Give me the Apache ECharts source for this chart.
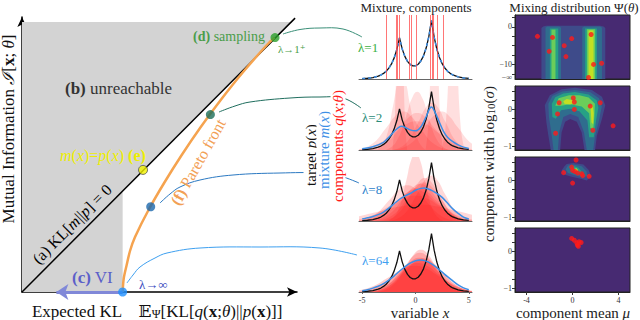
<!DOCTYPE html>
<html><head><meta charset="utf-8">
<script src="https://cdn.jsdelivr.net/npm/echarts@6.0.0/dist/echarts.min.js"></script>
<style>html,body{margin:0;padding:0;background:#fff}#c{width:640px;height:320px}</style>
</head><body><div id="c"></div>
<script>
// ---------------- DATA ----------------
// Left panel (normalised axes 0..1)
const unreachable = [[0,0],[0,0.982],[0.982,0.982],[0.366,0.366],[0.366,0]];
const diagonal = [[0,0],[0.993,0.996]];
const paretoFront = [[0.366,0],[0.370,0.05],[0.381,0.1],[0.393,0.15],[0.411,0.2],[0.461,0.3],[0.519,0.4],[0.582,0.5],[0.65,0.6],[0.724,0.7],[0.804,0.8],[0.892,0.9],[0.918,0.925]];
const lambdaPoints = [[0.92,0.925],[0.685,0.645],[0.468,0.31],[0.366,0]];
const matchPoint = [[0.44,0.444]];
const viArrow = [[0.366,0],[0.125,0]];

// Middle panels: variable x, target p(x)
const targetX = [-5,-4.5,-4,-3.5,-3.25,-3,-2.75,-2.5,-2.25,-2,-1.75,-1.5,-1.25,-1,-0.75,-0.5,-0.25,0,0.25,0.5,0.75,1,1.25,1.5,1.75,2,2.25,2.5,2.75,3,3.25,3.5,4,4.5,5];
const targetY = [0.006,0.012,0.023,0.045,0.062,0.087,0.121,0.169,0.236,0.330,0.460,0.642,0.471,0.353,0.275,0.227,0.206,0.206,0.231,0.281,0.362,0.484,0.661,0.911,0.653,0.468,0.335,0.240,0.172,0.123,0.088,0.063,0.033,0.017,0.009];
const mixtureL2 = [[-5,0.02],[-4,0.05],[-3,0.12],[-2.5,0.2],[-2,0.29],[-1.6,0.35],[-1.3,0.37],[-1,0.355],[-0.5,0.315],[0,0.30],[0.5,0.36],[1,0.52],[1.3,0.64],[1.5,0.67],[1.8,0.6],[2.2,0.45],[2.6,0.3],[3,0.2],[3.5,0.13],[4,0.08],[4.5,0.045],[5,0.025]];
const mixtureL8 = [[-5,0.03],[-4.5,0.05],[-4,0.07],[-3.5,0.1],[-3,0.14],[-2.5,0.2],[-2,0.27],[-1.5,0.34],[-1,0.39],[-0.5,0.43],[0,0.48],[0.5,0.51],[0.8,0.515],[1.2,0.5],[1.6,0.47],[2,0.43],[2.5,0.37],[3,0.28],[3.5,0.19],[4,0.12],[4.5,0.06],[5,0.03]];
const mixtureL64 = [[-5,0.02],[-4.5,0.035],[-4,0.06],[-3.5,0.09],[-3,0.13],[-2.5,0.186],[-2,0.253],[-1.5,0.325],[-1,0.394],[-0.5,0.45],[0,0.489],[0.45,0.5],[1,0.483],[1.5,0.441],[2,0.381],[2.5,0.31],[3,0.239],[3.5,0.174],[4,0.11],[4.5,0.065],[5,0.035]];
// lambda=1 components are point masses
const deltasL1 = [-2.76,-1.80,-1.68,-1.49,-0.56,-0.43,0.06,1.43,1.55,1.68,2.05,2.61];
const compsL2 = [
 [[-5.69,0],[-4.18,0.081],[-2.67,0.364],[-1.92,0.529],[-1.16,0.60],[-0.41,0.529],[0.35,0.364],[1.86,0.081],[3.37,0]],
 [[-6.05,0],[-4.01,0.061],[-1.97,0.273],[-0.95,0.397],[0.07,0.45],[1.09,0.397],[2.11,0.273],[4.15,0.061],[6.19,0]],
 [[-4.58,0],[-3.0,0.078],[-1.42,0.352],[-0.63,0.512],[0.16,0.58],[0.95,0.512],[1.74,0.352],[3.32,0.078],[4.9,0]],
 [[-2.84,0],[-1.84,0.123],[-0.84,0.552],[-0.34,0.803],[0.16,0.91],[0.66,0.803],[1.16,0.552],[2.16,0.123],[3.16,0]],
 [[-3.58,0],[-2.82,0.162],[-2.06,0.728],[-1.68,1.058],[-1.30,1.20],[-0.92,1.058],[-0.54,0.728],[0.22,0.162],[0.98,0]],
 [[-2.15,0],[-0.92,0.10],[0.31,0.449],[0.93,0.653],[1.54,0.74],[2.16,0.653],[2.77,0.449],[4.0,0.10],[5.23,0]],
 [[-2.12,0],[-0.61,0.081],[0.90,0.364],[1.66,0.529],[2.41,0.60],[3.17,0.529],[3.92,0.364],[5.43,0.081],[6.94,0]],
 [[-2.16,0],[-1.93,0.535],[-1.70,2.40],[-1.59,3.49],[-1.47,3.96],[-1.36,3.49],[-1.24,2.40],[-1.01,0.535],[-0.78,0]],
 [[0.95,0],[1.22,0.447],[1.50,2.01],[1.63,2.92],[1.77,3.31],[1.91,2.92],[2.05,2.01],[2.32,0.447],[2.60,0]],
 [[2.45,0],[2.81,0.342],[3.17,1.536],[3.35,2.23],[3.53,2.53],[3.71,2.23],[3.89,1.536],[4.25,0.342],[4.61,0]]
];
const compsL8 = [
 [[-10.34,0],[-6.79,0.035],[-3.24,0.155],[-1.47,0.226],[0.31,0.256],[2.09,0.226],[3.86,0.155],[7.41,0.035],[10.96,0]],
 [[-6.94,0],[-4.65,0.054],[-2.36,0.243],[-1.22,0.353],[-0.07,0.40],[1.08,0.353],[2.22,0.243],[4.51,0.054],[6.80,0]],
 [[-5.63,0],[-4.01,0.076],[-2.39,0.34],[-1.58,0.494],[-0.77,0.56],[0.04,0.494],[0.85,0.34],[2.47,0.076],[4.09,0]],
 [[-5.57,0],[-3.71,0.066],[-1.85,0.297],[-0.92,0.432],[0.01,0.49],[0.94,0.432],[1.87,0.297],[3.73,0.066],[5.59,0]],
 [[-5.0,0],[-3.26,0.07],[-1.52,0.316],[-0.65,0.459],[0.22,0.52],[1.09,0.459],[1.96,0.316],[3.70,0.07],[5.44,0]],
 [[-4.29,0],[-2.71,0.078],[-1.13,0.352],[-0.34,0.512],[0.45,0.58],[1.24,0.512],[2.03,0.352],[3.61,0.078],[5.19,0]],
 [[-3.73,0],[-2.22,0.081],[-0.71,0.364],[0.05,0.529],[0.80,0.60],[1.56,0.529],[2.31,0.364],[3.82,0.081],[5.33,0]],
 [[-3.16,0],[-1.81,0.09],[-0.46,0.407],[0.22,0.591],[0.89,0.67],[1.57,0.591],[2.24,0.407],[3.59,0.09],[4.94,0]],
 [[-2.42,0],[-1.13,0.096],[0.16,0.431],[0.81,0.626],[1.45,0.71],[2.10,0.626],[2.74,0.431],[4.03,0.096],[5.32,0]],
 [[-2.54,0],[-1.69,0.144],[-0.84,0.649],[-0.42,0.944],[0.01,1.07],[0.44,0.944],[0.86,0.649],[1.71,0.144],[2.56,0]]
];
const compsL64 = [
 [[-6.79,0],[-4.55,0.055],[-2.31,0.249],[-1.19,0.362],[-0.07,0.41],[1.05,0.362],[2.17,0.249],[4.41,0.055],[6.65,0]],
 [[-5.84,0],[-3.84,0.061],[-1.84,0.276],[-0.84,0.401],[0.16,0.455],[1.16,0.401],[2.16,0.276],[4.16,0.061],[6.16,0]],
 [[-4.73,0],[-3.03,0.072],[-1.33,0.325],[-0.48,0.472],[0.37,0.535],[1.22,0.472],[2.07,0.325],[3.77,0.072],[5.47,0]],
 [[-4.02,0],[-2.54,0.083],[-1.06,0.373],[-0.32,0.542],[0.42,0.615],[1.16,0.542],[1.90,0.373],[3.38,0.083],[4.86,0]],
 [[-4.89,0],[-3.07,0.068],[-1.25,0.304],[-0.34,0.441],[0.57,0.50],[1.48,0.441],[2.39,0.304],[4.21,0.068],[6.03,0]],
 [[-4.47,0],[-2.73,0.071],[-0.99,0.317],[-0.12,0.461],[0.75,0.523],[1.62,0.461],[2.49,0.317],[4.23,0.071],[5.97,0]],
 [[-3.63,0],[-2.25,0.089],[-0.87,0.40],[-0.18,0.582],[0.51,0.66],[1.20,0.582],[1.89,0.40],[3.27,0.089],[4.65,0]]
];

// Right panels: mixing distribution (mean mu, log10 sigma)
const psiDotsL1 = [[-3.05,-2.5],[-1.74,-2.8],[-0.07,-3.1],[-0.72,-5.0],[1.62,-2.0],[-2.03,-6.5],[-0.57,-7.9],[1.83,-10.0],[2.53,-9.7],[1.39,-13.5]];
const psiDotsL2 = [[-1.16,0.18],[0.07,0.31],[0.16,0.20],[0.16,0.0],[-1.30,-0.12],[1.54,0.09],[2.41,0.18],[-1.47,-0.64],[1.77,-0.56],[3.53,-0.44]];
const psiDotsL8 = [[0.31,0.55],[-0.07,0.36],[-0.77,0.21],[0.01,0.27],[0.22,0.24],[0.45,0.20],[0.80,0.18],[0.89,0.13],[1.45,0.11],[0.01,-0.07]];
const psiDotsL64 = [[-0.07,0.35],[0.16,0.30],[0.37,0.23],[0.42,0.17],[0.57,0.26],[0.75,0.24],[0.51,0.14]];
// density contours: [level, polygon]
const contoursL1 = [
 [1, [[-2.7,-15],[-2.7,-0.3],[-2.55,0.15],[-2.3,0.3],[2.4,0.3],[2.7,0.15],[2.85,-0.3],[2.85,-15]]],
 [2, [[-2.35,-15],[-2.35,-0.2],[-2.2,0.1],[-1.15,0.1],[-1.0,-0.2],[-1.0,-15]]],
 [2, [[0.85,-15],[0.85,-0.2],[1.0,0.1],[2.4,0.1],[2.56,-0.2],[2.56,-15]]],
 [3, [[-1.97,-15],[-1.97,-0.4],[-1.24,-0.4],[-1.24,-15]]],
 [3, [[1.1,-15],[1.1,-0.4],[2.12,-0.4],[2.12,-15]]],
 [4, [[-1.83,-15],[-1.83,-0.7],[-1.48,-0.7],[-1.48,-15]]],
 [4, [[1.25,-15],[1.25,-0.6],[1.97,-0.6],[1.97,-15]]],
 [5, [[1.39,-15],[1.39,-0.9],[1.83,-0.9],[1.83,-15]]]
];
const contoursL2 = [
 [1, [[-1.83,-1.2],[-2.1,-0.7],[-2.27,-0.35],[-2.41,0.11],[-1.97,0.38],[-0.95,0.54],[0.22,0.58],[1.68,0.52],[2.56,0.34],[2.85,0.11],[2.56,-0.26],[2.12,-0.71],[1.92,-1.2],[1.10,-1.2],[0.8,-0.62],[0.37,-0.33],[-0.2,-0.26],[-0.64,-0.33],[-0.95,-0.62],[-1.10,-1.2]]],
 [2, [[-1.6,-1.2],[-1.85,-0.6],[-2.05,-0.2],[-2.1,0.15],[-1.75,0.36],[-0.9,0.48],[0.2,0.52],[1.55,0.46],[2.3,0.3],[2.55,0.08],[2.3,-0.3],[1.95,-0.75],[1.75,-1.2],[1.3,-1.2],[1.0,-0.62],[0.5,-0.2],[-0.2,-0.12],[-0.8,-0.2],[-1.15,-0.6],[-1.3,-1.2]]],
 [3, [[-1.75,-0.2],[-1.8,0.15],[-1.5,0.33],[-0.8,0.43],[0.2,0.47],[1.4,0.4],[2.1,0.25],[2.25,0.05],[2.05,-0.3],[1.85,-0.75],[1.45,-0.75],[1.3,-0.3],[0.6,-0.05],[-0.2,0.02],[-1.0,-0.02],[-1.45,-0.25]]],
 [4, [[-1.5,0.1],[-1.2,0.3],[-0.3,0.38],[0.6,0.38],[1.4,0.32],[1.95,0.15],[1.9,-0.2],[1.8,-0.55],[1.55,-0.5],[1.45,-0.1],[0.8,0.08],[-0.2,0.14],[-1.0,0.1]]],
 [5, [[-0.8,0.22],[-0.5,0.28],[0.0,0.25],[0.2,0.18],[-0.2,0.13],[-0.7,0.15]]],
 [5, [[1.55,0.1],[1.75,0.12],[1.85,-0.1],[1.8,-0.4],[1.65,-0.35],[1.6,-0.1]]]
];
const contoursL8 = [
 [1, [[-0.95,0.27],[-0.7,0.38],[-0.51,0.44],[0.07,0.47],[0.95,0.43],[1.39,0.29],[1.62,0.12],[1.24,0.0],[0.8,0.04],[-0.07,0.1],[-0.66,0.15]]],
 [2, [[-0.6,0.3],[-0.4,0.4],[0.1,0.43],[0.8,0.38],[1.2,0.25],[1.3,0.12],[0.9,0.08],[0.2,0.14],[-0.4,0.2]]],
 [3, [[-0.2,0.34],[0.1,0.39],[0.5,0.34],[0.8,0.24],[0.6,0.18],[0.2,0.22],[-0.1,0.27]]],
 [5, [[0.15,0.31],[0.35,0.33],[0.5,0.27],[0.35,0.24],[0.2,0.27]]]
];
const contoursL64 = [];
const midTicks = [-5,0,5];
const psiMeanTicks = [-4,0,4];
const sigmaTicksL1 = [0,-10,-13.4];
const sigmaTicks = [0,-1];

// ---------------- STYLE / LAYOUT ----------------
const FF = "'Liberation Serif','DejaVu Serif',serif";
const tops = [15, 86, 157, 228];
const levelColors = ['#472a72','#3e4b8a','#2f6d8e','#26a185','#6bcd5a','#c2df23'];
const pointColors = ['#2ca02c','#1b6e5a','#1c68ad','#1e90ff'];
const compFills = [null, 'rgba(255,25,25,0.2)', 'rgba(255,25,25,0.24)', 'rgba(255,25,25,0.3)'];
const blue = '#3d8fe6';

const grids = [{left:22, top:17, width:275, height:275}];
const xAxes = [{gridIndex:0, type:'value', min:0, max:1, axisLine:{show:true, onZero:false, symbol:['none','arrow'], symbolSize:[7,10], lineStyle:{color:'#000', width:1.5}}, axisTick:{show:false}, axisLabel:{show:false}, splitLine:{show:false}}];
const yAxes = [{gridIndex:0, type:'value', min:0, max:1, axisLine:{show:true, onZero:false, symbol:['none','arrow'], symbolSize:[7,10], lineStyle:{color:'#000', width:1.5}}, axisTick:{show:false}, axisLabel:{show:false}, splitLine:{show:false}}];
for (let i = 0; i < 4; i++) {
  const last = i === 3;
  grids.push({left:359, top:tops[i], width:113, height:64});
  xAxes.push({gridIndex:1+i, type:'value', min:-5.3, max:5.3,
    axisLine:{show:true, onZero:false, lineStyle:{color:'#666', width:1}},
    axisTick:{show:last, customValues:midTicks, length:2, lineStyle:{color:'#666'}},
    axisLabel:{show:last, customValues:midTicks, fontSize:8, color:'#333', margin:4, fontFamily:FF},
    splitLine:{show:false}});
  yAxes.push({gridIndex:1+i, type:'value', min:0, max:1, show:false});
}
for (let i = 0; i < 4; i++) {
  const last = i === 3;
  grids.push({left:515, top:tops[i], width:115, height:64, show:true, backgroundColor:levelColors[0], borderColor:'#222', borderWidth:1});
  xAxes.push({gridIndex:5+i, type:'value', min:-5, max:5,
    axisLine:{show:true, onZero:false, lineStyle:{color:'#222', width:1}},
    axisTick:{show:last, customValues:psiMeanTicks, length:3, lineStyle:{color:'#333'}},
    axisLabel:{show:last, customValues:psiMeanTicks, fontSize:8, color:'#333', margin:4, fontFamily:FF},
    splitLine:{show:false}});
  const first = i === 0;
  yAxes.push({gridIndex:5+i, type:'value', min: first ? -13.9 : -1.09, max: first ? 3.2 : 0.63,
    axisLine:{show:true, onZero:false, lineStyle:{color:'#222', width:1}},
    axisTick:{show:true, customValues: first ? [2.5,0,-2.5,-5,-7.5,-10,-12.5] : [0.5,0.25,0,-0.25,-0.5,-0.75,-1], length:3, lineStyle:{color:'#333'}},
    axisLabel:{show:true, customValues: first ? sigmaTicksL1 : sigmaTicks, fontSize:8, color:'#333', margin:3, fontFamily:FF,
      formatter: v => v < -13 ? '−∞' : (v < 0 ? '−' + Math.abs(v) : String(v))},
    splitLine:{show:false}});
}

function polySeries(gi, pts, color, z) {
  return {type:'custom', xAxisIndex:gi, yAxisIndex:gi, data:pts, clip:true, silent:true, z:z,
    renderItem: (params, api) => params.dataIndex === 0 ? {type:'polygon', shape:{points: pts.map(p => api.coord(p))}, style:{fill:color}} : null};
}

const series = [];
// Left panel
series.push(polySeries(0, unreachable, '#d3d3d3', 1));
series.push({type:'line', xAxisIndex:0, yAxisIndex:0, data:diagonal, symbol:'none', lineStyle:{color:'#000', width:1.5}, silent:true, z:3});
series.push({type:'line', xAxisIndex:0, yAxisIndex:0, data:paretoFront, smooth:0.3, symbol:'none', lineStyle:{color:'#f5a34f', width:2.5}, silent:true, z:4,
  markLine:{silent:true, symbol:['none','arrow'], symbolSize:12, label:{show:false}, lineStyle:{color:'#8088d8', width:3, type:'solid', opacity:1},
    data:[[{coord:viArrow[0]},{coord:viArrow[1]}]]}});
series.push({type:'scatter', xAxisIndex:0, yAxisIndex:0, symbolSize:9, silent:true, z:6,
  data: lambdaPoints.map((p, k) => ({value:p, itemStyle:{color:pointColors[k]}}))});
series.push({type:'scatter', xAxisIndex:0, yAxisIndex:0, symbolSize:9, silent:true, z:6, data:matchPoint, itemStyle:{color:'#f2f200', borderColor:'#555', borderWidth:1}});

// Middle panels
const targetPairs = targetX.map((x, k) => [x, targetY[k]]);
series.push({type:'line', xAxisIndex:1, yAxisIndex:1, data: deltasL1.map(x => [x, 0]), symbol:'none', lineStyle:{width:0}, silent:true, z:1,
  markLine:{silent:true, symbol:'none', label:{show:false}, lineStyle:{color:'rgba(255,60,60,0.7)', width:1, type:'solid'}, data: deltasL1.map(v => ({xAxis:v}))}});
const compSets = [null, compsL2, compsL8, compsL64];
const mixSets = [targetPairs, mixtureL2, mixtureL8, mixtureL64];
for (let i = 0; i < 4; i++) {
  const gi = 1 + i;
  if (compSets[i]) compSets[i].forEach(c => series.push({type:'line', xAxisIndex:gi, yAxisIndex:gi, data:c, smooth:0.5, symbol:'none', lineStyle:{width:0, opacity:0}, areaStyle:{color:compFills[i]}, silent:true, z:2}));
  series.push({type:'line', xAxisIndex:gi, yAxisIndex:gi, data:targetPairs, symbol:'none', lineStyle:{color:'#111', width:1.3}, silent:true, z:3});
  series.push({type:'line', xAxisIndex:gi, yAxisIndex:gi, data:mixSets[i], smooth: i === 0 ? false : 0.3, symbol:'none', lineStyle:{color:blue, width:1.5, type: i === 0 ? [3,3] : 'solid'}, silent:true, z:4});
}

// Right panels
const contourSets = [contoursL1, contoursL2, contoursL8, contoursL64];
const dotSets = [psiDotsL1, psiDotsL2, psiDotsL8, psiDotsL64];
for (let i = 0; i < 4; i++) {
  const gi = 5 + i;
  contourSets[i].forEach(([lv, poly]) => series.push(polySeries(gi, poly, levelColors[lv], 1 + lv * 0.1)));
  series.push({type:'scatter', xAxisIndex:gi, yAxisIndex:gi, data:dotSets[i], symbolSize:5, itemStyle:{color:'#ff1a1a'}, silent:true, z:5});
}

// ---------------- ANNOTATIONS ----------------
function rs(size, extra) { return Object.assign({fontSize:size, fontFamily:FF, fontWeight:'normal', fontStyle:'normal'}, extra || {}); }
function txt(x, y, text, size, color, opt) {
  opt = opt || {};
  const style = {text:text, fill:color, fontSize:size, fontFamily:FF, align:opt.align || 'center', verticalAlign:'middle',
    rich:{r:rs(size,{fill:color}), i:rs(size,{fill:color, fontStyle:'italic'}), b:rs(size,{fill:color, fontWeight:'bold'}), s:rs(Math.round(size*0.7),{fill:color, verticalAlign:'bottom'})}};
  if (opt.bg) { style.backgroundColor = opt.bg; style.padding = [0, 1]; }
  return {type:'text', x:x, y:y, rotation:opt.rot || 0, z:100, silent:true, style:style};
}
const links = [
  {c:'#3a8f78', p:[[283,34],[300,29.5],[320,28],[343,29],[362,37]]},
  {c:'#1f6e5e', p:[[219,112],[235,106],[250,102],[290,98],[320,97],[343,98],[361,108]]},
  {c:'#2b79c2', p:[[160,203],[170,194],[180,187],[200,180],[233,175],[280,173],[320,173],[340,176],[359,183]]},
  {c:'#3ea0f0', p:[[127,283],[133,275],[140,267],[155,258],[167,253],[200,248],[260,247],[320,248],[357,255]]}
];
const graphics = links.map(l => ({type:'polyline', z:50, silent:true, shape:{points:l.p, smooth:0.4}, style:{stroke:l.c, lineWidth:1, fill:null}}));
graphics.push(
  txt(8, 129, '{r|Mutual Information }{i|ℐ}{r|[}{b|x}{r|; }{i|θ}{r|]}', 17, '#111', {rot:Math.PI/2}),
  txt(157, 311, '{r|Expected KL    𝔼}{s|Ψ}{r|[KL[}{i|q}{r|(}{b|x}{r|;}{i|θ}{r|)||}{i|p}{r|(}{b|x}{r|)]]}', 17, '#111'),
  txt(265, 36, '{b|(d)}{r| sampling}', 14, '#4a9d4a', {align:'right'}),
  txt(278, 49, '{r|λ→1⁺}', 11, '#4a9d4a', {align:'left'}),
  txt(65, 88, '{b|(b)}{r| unreachable}', 17, '#333', {align:'left'}),
  txt(60, 155, '{i|m}{r|(}{i|x}{r|)=}{i|p}{r|(}{i|x}{r|) }{b|(e)}', 16, '#eeee00', {align:'left'}),
  txt(72, 224, '{r|(a) KL[}{i|m}{r|||}{i|p}{r|] = 0}', 16, '#000', {rot:Math.PI/4}),
  txt(198, 162, '{b|(f)}{r| Pareto front}', 16, '#f2a055', {rot:1.06}),
  txt(72, 277, '{b|(c)}{r| VI}', 17, '#5b5fc9', {align:'left'}),
  txt(139, 284, '{r|λ→∞}', 13, '#3b4cc0', {align:'left'}),
  txt(416, 7, '{r|Mixture, components}', 13, '#222'),
  txt(574, 7, '{r|Mixing distribution Ψ(}{i|θ}{r|)}', 13, '#222'),
  txt(420, 313, '{r|variable }{i|x}', 15, '#222'),
  txt(573, 313, '{r|component mean }{i|μ}', 15, '#222'),
  txt(489, 164, '{r|component width log}{s|10}{r|(}{i|σ}{r|)}', 15, '#222', {rot:Math.PI/2}),
  txt(311, 155, '{r|target }{i|p}{r|(}{i|x}{r|)}', 15, '#111', {rot:Math.PI/2, bg:'#fff'}),
  txt(324, 150, '{r|mixture }{i|m}{r|(}{i|x}{r|)}', 15, blue, {rot:Math.PI/2, bg:'#fff'}),
  txt(338, 146, '{r|components }{i|q}{r|(}{i|x}{r|;}{i|θ}{r|)}', 15, '#ff1a1a', {rot:Math.PI/2, bg:'#fff'}),
  txt(358, 47, '{r|λ=1}', 13, '#3cb043', {align:'left'}),
  txt(362, 117, '{r|λ=2}', 13, '#2a8c78', {align:'left'}),
  txt(362, 189, '{r|λ=8}', 13, '#2d82cc', {align:'left'}),
  txt(362, 260, '{r|λ=64}', 13, '#3fa0f0', {align:'left'})
);

const chart = echarts.init(document.getElementById('c'), null, {renderer:'svg', width:640, height:320});
chart.setOption({
  animation:false,
  backgroundColor:'#fff',
  textStyle:{fontFamily:FF},
  grid: grids.map(g => Object.assign({outerBoundsMode:'none', containLabel:false}, g)),
  xAxis: xAxes, yAxis: yAxes,
  series: series,
  graphic: {elements: graphics}
});
</script></body></html>
